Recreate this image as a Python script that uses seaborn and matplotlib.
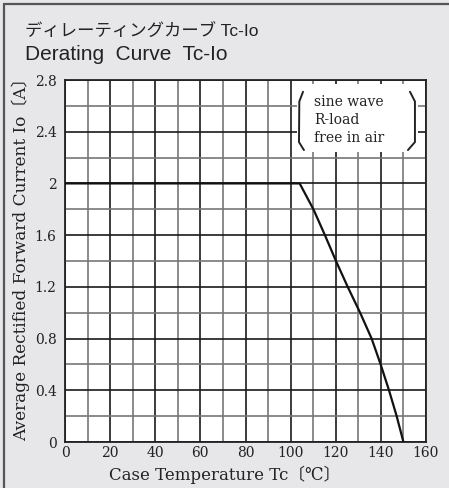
import matplotlib.pyplot as plt
import seaborn as sns
import pandas as pd
from matplotlib.patches import Rectangle
from matplotlib.lines import Line2D

# derating curve
temp = [0, 104, 110.1, 115.2, 120.1, 125.3, 130.8, 135.9, 139.9, 143.6, 147.0, 150]
current = [2.0, 2.0, 1.8, 1.6, 1.4, 1.2, 1.0, 0.8, 0.6, 0.4, 0.2, 0.0]

x_ticks = [0, 20, 40, 60, 80, 100, 120, 140, 160]
y_ticks = [0, 0.4, 0.8, 1.2, 1.6, 2.0, 2.4, 2.8]
y_labels = ["0", "0.4", "0.8", "1.2", "1.6", "2", "2.4", "2.8"]
notes = ["sine wave", "R-load", "free in air"]

title_jp = "ディレーティングカーブ Tc-Io"
title_en = "Derating  Curve  Tc-Io"
x_label = "Case Temperature Tc〔℃〕"
y_label = "Average Rectified Forward Current Io〔A〕"

sns.set_style("white")
serif = ["DejaVu Serif", "Noto Sans CJK JP"]
gothic = ["Liberation Sans", "Noto Sans CJK JP"]

df = pd.DataFrame({"Tc": temp, "Io": current})

fig = plt.figure(figsize=(4.49, 4.88), dpi=100)
fig.patch.set_facecolor("#e7e7e9")
ax = fig.add_axes([65 / 449, 1 - 442 / 488, 361 / 449, 362 / 488])
ax.set_facecolor("white")

sns.lineplot(data=df, x="Tc", y="Io", ax=ax, color="#111111", lw=1.6, zorder=3)

ax.set_xlim(0, 160)
ax.set_ylim(0, 2.8)
ax.set_xticks(x_ticks)
ax.set_yticks(y_ticks)
ax.set_yticklabels(y_labels)
ax.set_xticks(range(10, 160, 20), minor=True)
ax.set_yticks([0.2, 0.6, 1.0, 1.4, 1.8, 2.2, 2.6], minor=True)
ax.grid(which="major", color="#1a1a1a", lw=1.2)
ax.grid(which="minor", color="#777777", lw=1.2)
ax.set_axisbelow(True)
ax.tick_params(which="both", length=0, labelsize=10, colors="#222222")
ax.tick_params(axis="y", pad=6)
ax.tick_params(axis="x", pad=3)
for lab in ax.get_xticklabels() + ax.get_yticklabels():
    lab.set_family(serif)
for sp in ax.spines.values():
    sp.set_color("#222222")
    sp.set_linewidth(1.3)

ax.set_xlabel(x_label, family=serif, fontsize=12, color="#222222")
ax.xaxis.set_label_coords(0.443, -0.066)
ax.set_ylabel(y_label, family=serif, fontsize=12.2, color="#222222")
ax.yaxis.set_label_coords(-0.097, 0.515)

# note box
bx0, bx1, by0, by1 = 102.8, 156.5, 2.24, 2.77
ax.add_patch(Rectangle((bx0, by0), bx1 - bx0, by1 - by0, facecolor="white",
                       edgecolor="none", zorder=1))
for xs in ([105.5, 103.85, 103.7, 105.9], [152.9, 155.1, 155.1, 152.0]):
    ax.add_line(Line2D(xs, [2.709, 2.634, 2.32, 2.258], color="#222222",
                       lw=1.4, zorder=2))
for i, t in enumerate(notes):
    ax.text(110.4, 2.63 - i * 0.14, t, family=serif, fontsize=10,
            color="#222222", va="center", ha="left", zorder=4)

fig.text(25 / 449, 1 - 32 / 488, title_jp, family=gothic, fontsize=12.5,
         color="#222222", va="center", ha="left")
fig.text(25 / 449, 1 - 54 / 488, title_en, family=gothic, fontsize=15,
         color="#222222", va="center", ha="left")

# frame of the sheet
fig.add_artist(Line2D([4 / 449, 4 / 449], [0, 1 - 4 / 488], color="#555555", lw=1.6))
fig.add_artist(Line2D([4 / 449, 1], [1 - 4 / 488, 1 - 4 / 488], color="#555555", lw=1.6))

fig.savefig("out.png", dpi=100, facecolor=fig.get_facecolor())
